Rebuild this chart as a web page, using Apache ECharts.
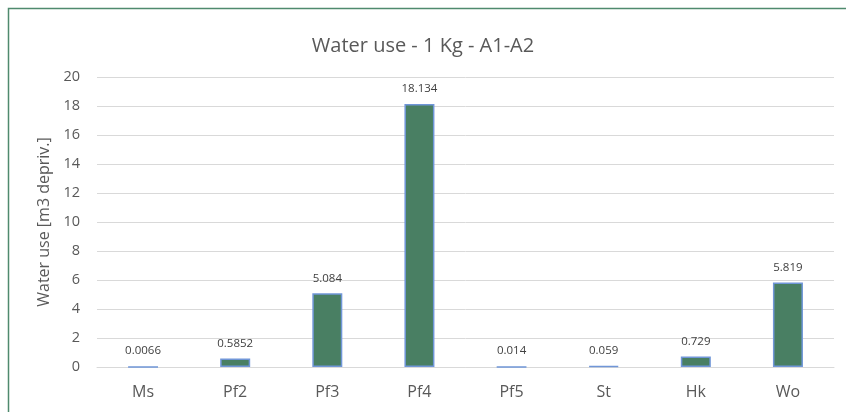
<!DOCTYPE html>
<html><head><meta charset="utf-8">
<script src="https://cdn.jsdelivr.net/npm/echarts@6/dist/echarts.min.js"></script>
<style>html,body{margin:0;padding:0;background:#fff}#c{width:846px;height:412px}</style>
</head><body><div id="c"></div>
<script>
const categories = ['Ms','Pf2','Pf3','Pf4','Pf5','St','Hk','Wo'];
const values = [0.0066, 0.5852, 5.084, 18.134, 0.014, 0.059, 0.729, 5.819];
const labels = ['0.0066','0.5852','5.084','18.134','0.014','0.059','0.729','5.819'];
const chart = echarts.init(document.getElementById('c'), null, {renderer:'canvas'});
const font = '"Open Sans", sans-serif';
chart.setOption({
  animation:false,
  textStyle:{fontFamily:font},
  title:{text:'Water use - 1 Kg - A1-A2', left:'center', top:31, textStyle:{fontFamily:font, fontSize:20, fontWeight:'normal', color:'#595959'}},
  graphic:[{type:'rect', shape:{x:8.5,y:8.5,width:900,height:500}, style:{fill:'none', stroke:'#4f8a6e', lineWidth:1.5}, silent:true}],
  grid:{left:97, right:12, top:77, bottom:45, containLabel:false},
  xAxis:{type:'category', data:categories, axisTick:{show:false},
    axisLine:{lineStyle:{color:'#d9d9d9'}},
    axisLabel:{color:'#595959', fontSize:16, margin:17, fontFamily:font}},
  yAxis:{type:'value', min:0, max:20, interval:2,
    name:'Water use [m3 depriv.]', nameLocation:'middle', nameGap:45, nameRotate:90,
    nameTextStyle:{color:'#595959', fontSize:16, fontFamily:font},
    axisLine:{show:false}, axisTick:{show:false},
    axisLabel:{color:'#595959', fontSize:14.5, margin:17, fontFamily:font},
    splitLine:{lineStyle:{color:'#d9d9d9', width:1}}},
  series:[{type:'bar', data:values, barWidth:30,
    itemStyle:{color:'#497f63', borderColor:'#7096d8', borderWidth:1.5},
    label:{show:true, position:'top', distance:9, color:'#404040', fontSize:11.5, fontFamily:font,
      formatter:p=>labels[p.dataIndex]}}]
});
</script></body></html>
